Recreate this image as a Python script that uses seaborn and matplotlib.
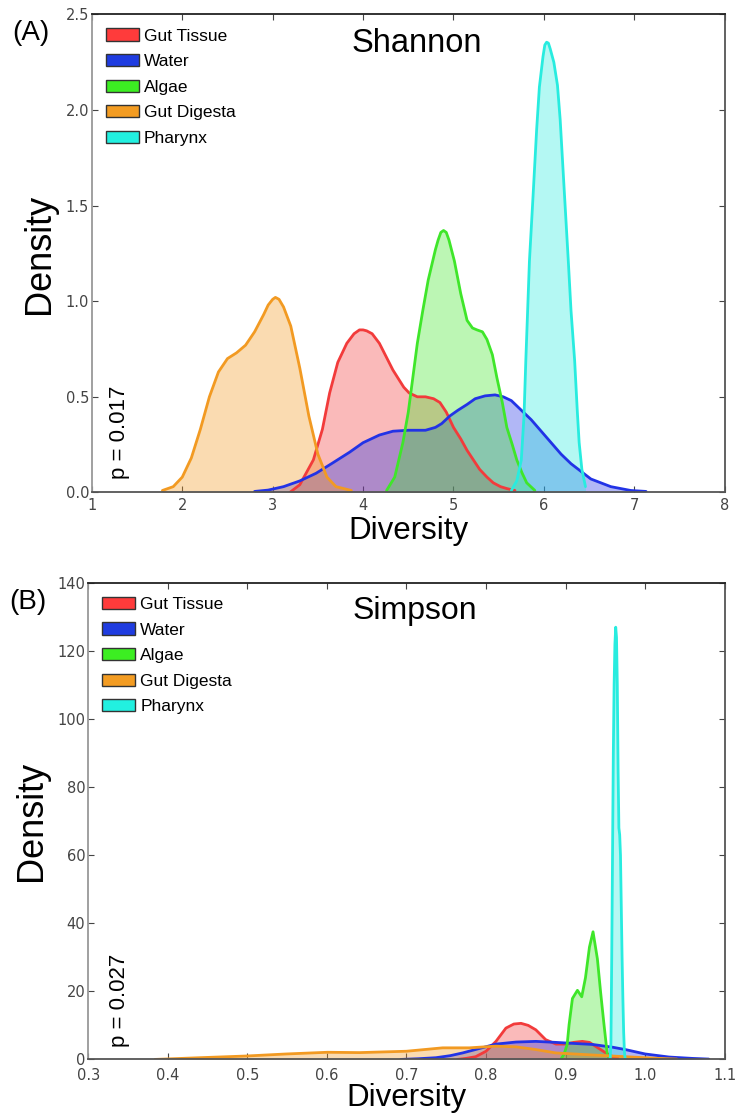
import matplotlib
matplotlib.use("Agg")
import matplotlib.pyplot as plt
import seaborn as sns
import numpy as np
from matplotlib.patches import Patch

# ---------------- data ----------------
groups = ["Gut Tissue", "Water", "Algae", "Gut Digesta", "Pharynx"]
line_colors = ["#f23b3b", "#2233e6", "#3fe62a", "#f29a22", "#28ecdf"]
patch_colors = ["#ff3b3b", "#1f3ce0", "#3cee22", "#f39c22", "#22f0e0"]

# Panel A: Shannon diversity density curves
shannon_gut_tissue_x = [3.19, 3.30, 3.45, 3.55, 3.63, 3.72, 3.82, 3.90, 3.96, 4.00, 4.04, 4.10, 4.18, 4.33, 4.45,
                        4.51, 4.60, 4.69, 4.78, 4.85, 4.92, 5.00, 5.08, 5.15, 5.22, 5.29, 5.37, 5.44, 5.52, 5.59,
                        5.68]
shannon_gut_tissue_y = [0.0, 0.04, 0.17, 0.33, 0.52, 0.68, 0.78, 0.83, 0.85, 0.85, 0.845, 0.83, 0.78, 0.64, 0.55,
                        0.52, 0.50, 0.50, 0.49, 0.47, 0.42, 0.34, 0.28, 0.22, 0.17, 0.12, 0.08, 0.05, 0.03, 0.02,
                        0.01]
shannon_water_x = [2.80, 2.95, 3.12, 3.30, 3.48, 3.65, 3.85, 4.00, 4.18, 4.33, 4.50, 4.69, 4.80, 4.87, 4.96,
                   5.05, 5.15, 5.24, 5.35, 5.46, 5.55, 5.64, 5.75, 5.86, 5.97, 6.08, 6.19, 6.30, 6.41, 6.52,
                   6.63, 6.74, 6.85, 6.96, 7.13]
shannon_water_y = [0.005, 0.012, 0.03, 0.06, 0.10, 0.15, 0.21, 0.26, 0.30, 0.32, 0.325, 0.325, 0.34, 0.36, 0.40,
                   0.43, 0.46, 0.49, 0.505, 0.51, 0.50, 0.48, 0.43, 0.38, 0.32, 0.26, 0.20, 0.15, 0.11, 0.07,
                   0.05, 0.03, 0.02, 0.01, 0.005]
shannon_algae_x = [4.26, 4.35, 4.44, 4.50, 4.55, 4.60, 4.66, 4.72, 4.77, 4.80, 4.83, 4.86, 4.89, 4.92, 4.95,
                   5.01, 5.08, 5.15, 5.21, 5.26, 5.32, 5.37, 5.43, 5.48, 5.54, 5.59, 5.65, 5.70, 5.76, 5.81, 5.90]
shannon_algae_y = [0.01, 0.08, 0.26, 0.42, 0.60, 0.78, 0.95, 1.11, 1.21, 1.27, 1.32, 1.36, 1.37, 1.36, 1.32,
                   1.21, 1.04, 0.90, 0.86, 0.85, 0.84, 0.80, 0.72, 0.60, 0.47, 0.34, 0.25, 0.17, 0.10, 0.05, 0.01]
shannon_gut_digesta_x = [1.78, 1.90, 2.00, 2.10, 2.20, 2.30, 2.40, 2.50, 2.60, 2.70, 2.80, 2.90, 2.95, 3.00,
                         3.03, 3.07, 3.12, 3.20, 3.30, 3.40, 3.50, 3.60, 3.70, 3.87]
shannon_gut_digesta_y = [0.01, 0.03, 0.08, 0.18, 0.33, 0.50, 0.63, 0.70, 0.73, 0.77, 0.84, 0.93, 0.98, 1.01,
                         1.02, 1.01, 0.97, 0.87, 0.65, 0.40, 0.20, 0.08, 0.03, 0.01]
shannon_pharynx_x = [5.64, 5.70, 5.75, 5.78, 5.80, 5.84, 5.88, 5.92, 5.95, 5.99, 6.01, 6.03, 6.05, 6.07, 6.11,
                     6.15, 6.18, 6.22, 6.27, 6.30, 6.34, 6.37, 6.39, 6.42, 6.46]
shannon_pharynx_y = [0.01, 0.06, 0.17, 0.40, 0.69, 1.21, 1.55, 1.90, 2.12, 2.28, 2.34, 2.355, 2.35, 2.32, 2.25,
                     2.13, 1.95, 1.62, 1.21, 0.95, 0.69, 0.42, 0.26, 0.12, 0.03]

# Panel B: Simpson diversity density curves
simpson_gut_tissue_x = [0.764, 0.775, 0.787, 0.800, 0.8125, 0.825, 0.835, 0.844, 0.853, 0.8626, 0.875, 0.888,
                        0.900, 0.910, 0.921, 0.930, 0.940, 0.950, 0.960, 0.966]
simpson_gut_tissue_y = [0.0, 0.3, 0.8, 2.4, 5.3, 9.2, 10.4, 10.6, 10.0, 8.7, 5.8, 4.5,
                        4.5, 5.0, 5.3, 5.0, 3.5, 2.0, 0.7, 0.3]
simpson_water_x = [0.693, 0.715, 0.737, 0.755, 0.7705, 0.7915, 0.8125, 0.8375, 0.8626, 0.8878, 0.910, 0.9336,
                   0.9587, 0.975, 1.000, 1.030, 1.059, 1.080]
simpson_water_y = [0.0, 0.2, 0.5, 1.1, 1.9, 3.2, 4.5, 5.1, 5.3, 5.0, 4.7, 4.4,
                   3.6, 2.9, 1.6, 0.7, 0.3, 0.1]
simpson_algae_x = [0.894, 0.898, 0.902, 0.9044, 0.9086, 0.9149, 0.9203, 0.925, 0.930, 0.9345, 0.940, 0.944,
                   0.9483, 0.9524, 0.955]
simpson_algae_y = [0.0, 1.5, 4.4, 10.2, 17.9, 20.3, 18.4, 24.0, 33.0, 37.5, 29.5, 19.8,
                   10.2, 1.5, 0.0]
simpson_gut_digesta_x = [0.384, 0.440, 0.4987, 0.549, 0.601, 0.641, 0.700, 0.7454, 0.779, 0.8125, 0.8375,
                         0.8626, 0.8878, 0.934, 0.975, 1.017, 1.040]
simpson_gut_digesta_y = [0.0, 0.5, 1.0, 1.6, 2.1, 2.0, 2.4, 3.4, 3.4, 3.9, 3.7,
                         2.9, 1.9, 1.3, 0.8, 0.3, 0.1]
simpson_pharynx_x = [0.956, 0.957, 0.958, 0.959, 0.960, 0.961, 0.962, 0.963, 0.964, 0.965, 0.966, 0.967,
                     0.968, 0.969, 0.970, 0.971, 0.972, 0.973, 0.974, 0.975]
simpson_pharynx_y = [0.0, 5, 30, 60, 90, 110, 122, 127, 124, 110, 85, 68,
                     66, 60, 45, 30, 18, 8, 2, 0.0]

shannon_xticks = [1, 2, 3, 4, 5, 6, 7, 8]
shannon_yticks = [0.0, 0.5, 1.0, 1.5, 2.0, 2.5]
simpson_xticks = [0.3, 0.4, 0.5, 0.6, 0.7, 0.8, 0.9, 1.0, 1.1]
simpson_yticks = [0, 20, 40, 60, 80, 100, 120, 140]

# ---------------- style ----------------
sns.set_theme(style="white")
plt.rcParams["font.family"] = ["Liberation Sans", "DejaVu Sans"]
plt.rcParams["text.color"] = "black"
plt.rcParams["axes.labelcolor"] = "black"

fig = plt.figure(figsize=(7.35, 11.14), dpi=100)
axA = fig.add_axes([0.125, 0.558, 0.861, 0.429])
axB = fig.add_axes([0.120, 0.049, 0.866, 0.4277])

shannon = [(shannon_gut_tissue_x, shannon_gut_tissue_y), (shannon_water_x, shannon_water_y),
           (shannon_algae_x, shannon_algae_y), (shannon_gut_digesta_x, shannon_gut_digesta_y),
           (shannon_pharynx_x, shannon_pharynx_y)]
simpson = [(simpson_gut_tissue_x, simpson_gut_tissue_y), (simpson_water_x, simpson_water_y),
           (simpson_algae_x, simpson_algae_y), (simpson_gut_digesta_x, simpson_gut_digesta_y),
           (simpson_pharynx_x, simpson_pharynx_y)]


def draw(ax, curves, xticks, yticks, xfmt, yfmt, title, title_size, ptext, panel, label_x,
         xlabelpad, xtickpad):
    for (xs, ys), lc in zip(curves, line_colors):
        ax.fill_between(xs, ys, 0, color=lc, alpha=0.35, lw=0)
        sns.lineplot(x=xs, y=ys, ax=ax, color=lc, lw=2, estimator=None, sort=False)
    ax.set_xlim(xticks[0], xticks[-1])
    ax.set_ylim(yticks[0], yticks[-1])
    ax.set_xticks(xticks)
    ax.set_yticks(yticks)
    ax.set_xticklabels([xfmt(v) for v in xticks], family="DejaVu Sans", fontsize=10.5, color="#444444")
    ax.set_yticklabels([yfmt(v) for v in yticks], family="DejaVu Sans", fontsize=10.5, color="#444444")
    ax.tick_params(direction="in", length=4, width=0.8, colors="#444444", top=True, right=True,
                   bottom=True, left=True, pad=2)
    ax.tick_params(axis="x", pad=xtickpad)
    for side, sp in ax.spines.items():
        sp.set_visible(True)
        sp.set_linewidth(1.3)
        sp.set_color("#555555")
    ax.spines["left"].set_color("#999999")
    ax.spines["top"].set_color("#222222")
    ax.set_xlabel("Diversity", fontsize=22.5, labelpad=xlabelpad, color="black")
    ax.set_ylabel("Density", fontsize=26, labelpad=6, color="black")
    ax.text(0.513, 0.972, title, transform=ax.transAxes, fontsize=title_size, ha="center", va="top",
            color="black")
    ax.text(label_x, 0.027, ptext, transform=ax.transAxes, fontsize=16, rotation=90,
            ha="center", va="bottom", color="black")
    handles = [Patch(facecolor=c, edgecolor="#333333", lw=1) for c in patch_colors]
    ax.legend(handles, groups, loc="upper left", frameon=False, fontsize=12.5,
              handlelength=1.9, handleheight=0.7, handletextpad=0.3, labelspacing=0.6,
              borderaxespad=0.4, borderpad=0.4)
    fig.text(ax.get_position().x0 - 0.108, ax.get_position().y1 - 0.005, panel,
             fontsize=20, ha="left", va="top", color="black")


draw(axA, shannon, shannon_xticks, shannon_yticks, lambda v: f"{v:d}", lambda v: f"{v:.1f}",
     "Shannon", 23.5, "p = 0.017", "(A)", 0.044, 2, 4)
draw(axB, simpson, simpson_xticks, simpson_yticks, lambda v: f"{v:.1f}", lambda v: f"{v:d}",
     "Simpson", 23, "p = 0.027", "(B)", 0.049, 0.5, 6)

fig.savefig("out.png", dpi=100)
